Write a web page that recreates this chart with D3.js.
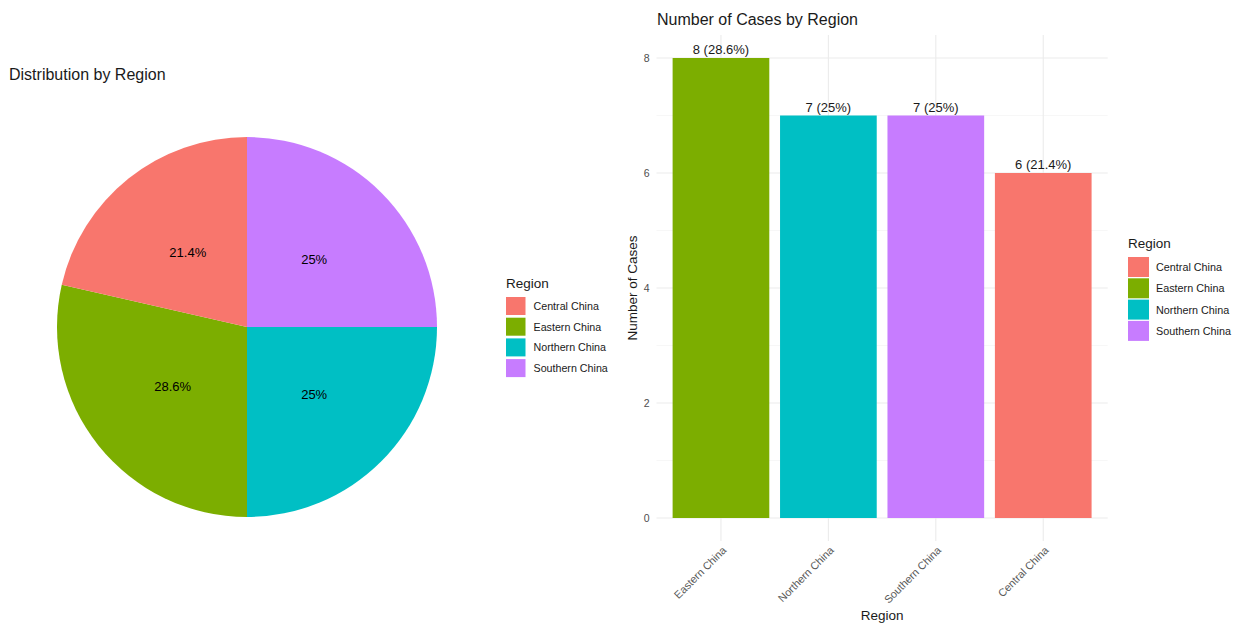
<!DOCTYPE html>
<html>
<head>
<meta charset="utf-8">
<script src="https://cdn.jsdelivr.net/npm/d3@7"></script>
<style>
  body { margin: 0; background: #fff; }
  svg { font-family: "Liberation Sans", Arial, sans-serif; display: block; }
</style>
</head>
<body>
<svg id="chart" width="1239" height="626"></svg>
<script>
// Case counts per region
const regions = ["Central China", "Eastern China", "Northern China", "Southern China"];
const counts = [6, 8, 7, 7];
const colors = ["#F8766D", "#7CAE00", "#00BFC4", "#C77CFF"];
const yTicks = [0, 2, 4, 6, 8];
const yMinorTicks = [1, 3, 5, 7];

const total = d3.sum(counts);
const pctText = c => (Math.round(c / total * 1000) / 10) + "%";
const rows = regions.map((r, i) => ({ region: r, count: counts[i], color: colors[i] }));

const svg = d3.select("#chart");

// ---------- Pie chart ----------
svg.append("text").attr("x", 9).attr("y", 80)
  .attr("font-size", 16).attr("fill", "#1a1a1a").text("Distribution by Region");

const cx = 247, cy = 327, R = 190;
// slices run clockwise from 12 o'clock in reverse legend order
const pie = d3.pie().sort(null).value(d => d.count);
const arcs = pie(rows.slice().reverse());
const arc = d3.arc().innerRadius(0).outerRadius(R);
const pieG = svg.append("g").attr("transform", `translate(${cx},${cy})`);
pieG.selectAll("path").data(arcs).join("path")
  .attr("d", arc).attr("fill", d => d.data.color);
pieG.selectAll("text").data(arcs).join("text")
  .attr("transform", d => `translate(${arc.centroid(d)})`)
  .attr("text-anchor", "middle").attr("dominant-baseline", "central")
  .attr("font-size", 13).attr("fill", "#000")
  .text(d => pctText(d.data.count));

function legend(x, y, keyW, keyH, pitch, textGap, fontSize) {
  const g = svg.append("g").attr("transform", `translate(${x},${y})`);
  g.append("text").attr("x", 0).attr("y", 0).attr("font-size", 13.5)
    .attr("fill", "#1a1a1a").text("Region");
  const items = g.selectAll("g.item").data(rows).join("g")
    .attr("transform", (d, i) => `translate(0,${9 + i * pitch})`);
  items.append("rect").attr("width", keyW).attr("height", keyH).attr("fill", d => d.color);
  items.append("text").attr("x", keyW + textGap).attr("y", keyH / 2)
    .attr("dominant-baseline", "central").attr("font-size", fontSize)
    .attr("fill", "#1a1a1a").text(d => d.region);
}
legend(506, 288, 19.5, 18, 20.7, 8, 10.7);

// ---------- Bar chart ----------
svg.append("text").attr("x", 657).attr("y", 25)
  .attr("font-size", 16).attr("fill", "#1a1a1a").text("Number of Cases by Region");

const barRows = rows.slice().sort((a, b) => b.count - a.count);
const panel = { left: 656.5, right: 1107.7, top: 35, bottom: 541 };
const x = d3.scaleBand().domain(barRows.map(d => d.region))
  .range([panel.left, panel.right]).paddingInner(0.1).paddingOuter(0.15);
const y = d3.scaleLinear().domain([-0.4, 8.4]).range([panel.bottom, panel.top]);

const grid = svg.append("g");
grid.selectAll("line.minor").data(yMinorTicks).join("line")
  .attr("x1", panel.left).attr("x2", panel.right)
  .attr("y1", d => y(d)).attr("y2", d => y(d))
  .attr("stroke", "#f2f2f2").attr("stroke-width", 0.6);
grid.selectAll("line.major").data(yTicks).join("line")
  .attr("x1", panel.left).attr("x2", panel.right)
  .attr("y1", d => y(d)).attr("y2", d => y(d))
  .attr("stroke", "#ebebeb").attr("stroke-width", 1.1);
grid.selectAll("line.vx").data(barRows).join("line")
  .attr("x1", d => x(d.region) + x.bandwidth() / 2).attr("x2", d => x(d.region) + x.bandwidth() / 2)
  .attr("y1", panel.top).attr("y2", panel.bottom)
  .attr("stroke", "#ebebeb").attr("stroke-width", 1.1);

svg.append("g").selectAll("rect").data(barRows).join("rect")
  .attr("x", d => x(d.region)).attr("width", x.bandwidth())
  .attr("y", d => y(d.count)).attr("height", d => y(0) - y(d.count))
  .attr("fill", d => d.color);

svg.append("g").selectAll("text").data(barRows).join("text")
  .attr("x", d => x(d.region) + x.bandwidth() / 2).attr("y", d => y(d.count) - 4)
  .attr("text-anchor", "middle").attr("font-size", 13).attr("fill", "#1a1a1a")
  .text(d => `${d.count} (${pctText(d.count)})`);

// y axis
const yAxis = svg.append("g").attr("transform", `translate(${panel.left},0)`)
  .call(d3.axisLeft(y).tickValues(yTicks).tickSize(0).tickPadding(7));
yAxis.select(".domain").remove();
yAxis.selectAll("text").attr("font-size", 10.5).attr("fill", "#4d4d4d")
  .attr("font-family", "Liberation Sans, Arial, sans-serif");

// x axis (rotated labels)
const xAxis = svg.append("g").attr("transform", `translate(0,${panel.bottom})`)
  .call(d3.axisBottom(x).tickSize(0).tickPadding(0));
xAxis.select(".domain").remove();
xAxis.selectAll("text").attr("font-size", 10.8).attr("fill", "#595959")
  .attr("font-family", "Liberation Sans, Arial, sans-serif")
  .attr("text-anchor", "end").attr("dy", null).attr("y", 0)
  .attr("transform", "translate(6,10) rotate(-45)");

svg.append("text").attr("x", (panel.left + panel.right) / 2).attr("y", 620)
  .attr("text-anchor", "middle").attr("font-size", 13.5).attr("fill", "#1a1a1a").text("Region");
svg.append("text").attr("transform", `translate(637,${(panel.top + panel.bottom) / 2}) rotate(-90)`)
  .attr("text-anchor", "middle").attr("font-size", 13.5).attr("fill", "#1a1a1a").text("Number of Cases");

legend(1128, 248, 21, 20, 21.3, 7, 10.8);
</script>
</body>
</html>
